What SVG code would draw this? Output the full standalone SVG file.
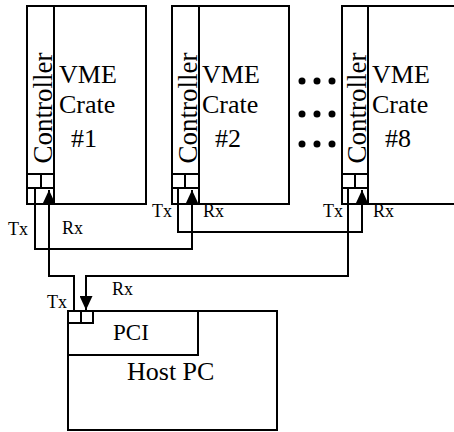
<svg xmlns="http://www.w3.org/2000/svg" width="454" height="432" viewBox="0 0 454 432">
<style>
.b{fill:#fff;stroke:#000;stroke-width:2}
.p{fill:none;stroke:#000;stroke-width:2}
.c{fill:none;stroke:#000;stroke-width:2;marker-end:url(#ah)}
.t{font-family:"Liberation Serif","Times New Roman",serif;fill:#000}
.big{font-size:26px}
.ctl{font-size:27px}
.sm{font-size:18px}
</style>
<defs>
<marker id="ah" markerUnits="userSpaceOnUse" markerWidth="14" markerHeight="13" refX="14" refY="6.5" orient="auto">
<path d="M0,0 L14,6.5 L0,13 z" fill="#000"/>
</marker>
</defs>
<rect width="454" height="432" fill="#fff"/>
<g id="crate1">
<rect class="b" x="27" y="6" width="119" height="198"/>
<line class="p" x1="54" y1="6" x2="54" y2="204"/>
<rect class="p" x="27" y="174" width="14" height="14"/>
<rect class="p" x="41" y="174" width="13" height="14"/>
<text class="t ctl" transform="translate(52,108) rotate(-90)" text-anchor="middle">Controller</text>
<text class="t big" x="59" y="83">VME</text>
<text class="t big" x="59" y="113">Crate</text>
<text class="t big" x="71" y="147">#1</text>
<text class="t sm" x="8" y="235">Tx</text>
<text class="t sm" x="62" y="234">Rx</text>
</g>
<g id="crate2">
<rect class="b" x="172" y="6" width="117" height="198"/>
<line class="p" x1="199" y1="6" x2="199" y2="204"/>
<rect class="p" x="172" y="174" width="13" height="14"/>
<rect class="p" x="185" y="174" width="14" height="14"/>
<text class="t ctl" transform="translate(197,108) rotate(-90)" text-anchor="middle">Controller</text>
<text class="t big" x="202" y="83">VME</text>
<text class="t big" x="202" y="113">Crate</text>
<text class="t big" x="215" y="147">#2</text>
<text class="t sm" x="152" y="217">Tx</text>
<text class="t sm" x="203" y="217">Rx</text>
</g>
<g id="dots">
<circle cx="302" cy="81" r="3.5"/><circle cx="317" cy="81" r="3.5"/><circle cx="332" cy="81" r="3.5"/>
<circle cx="302" cy="114" r="3.5"/><circle cx="317" cy="114" r="3.5"/><circle cx="332" cy="114" r="3.5"/>
<circle cx="302" cy="144" r="3.5"/><circle cx="317" cy="144" r="3.5"/><circle cx="332" cy="144" r="3.5"/>
</g>
<g id="crate8">
<rect class="b" x="342" y="6" width="130" height="198"/>
<line class="p" x1="368" y1="6" x2="368" y2="204"/>
<rect class="p" x="342" y="174" width="13" height="14"/>
<rect class="p" x="355" y="174" width="13" height="14"/>
<text class="t ctl" transform="translate(366,108) rotate(-90)" text-anchor="middle">Controller</text>
<text class="t big" x="372" y="83">VME</text>
<text class="t big" x="372" y="113">Crate</text>
<text class="t big" x="385" y="147">#8</text>
<text class="t sm" x="323" y="217">Tx</text>
<text class="t sm" x="373" y="217">Rx</text>
</g>
<g id="host">
<rect class="b" x="68" y="311" width="209" height="119"/>
<rect class="p" x="68" y="311" width="130" height="44"/>
<rect class="p" x="68" y="311" width="13" height="12"/>
<rect class="p" x="81" y="311" width="12" height="12"/>
<text class="t" style="font-size:23px" x="113" y="340">PCI</text>
<text class="t big" x="127" y="380">Host PC</text>
<text class="t sm" x="47" y="308">Tx</text>
<text class="t sm" x="112" y="295">Rx</text>
</g>
<g id="connectors">
<path class="c" d="M35,188 V249 H192 V190"/>
<path class="c" d="M178,188 V232 H362 V190"/>
<path class="c" d="M348,188 V276 H86 V310"/>
<path class="c" d="M74,311 V276 H49 V190"/>
</g>
</svg>
